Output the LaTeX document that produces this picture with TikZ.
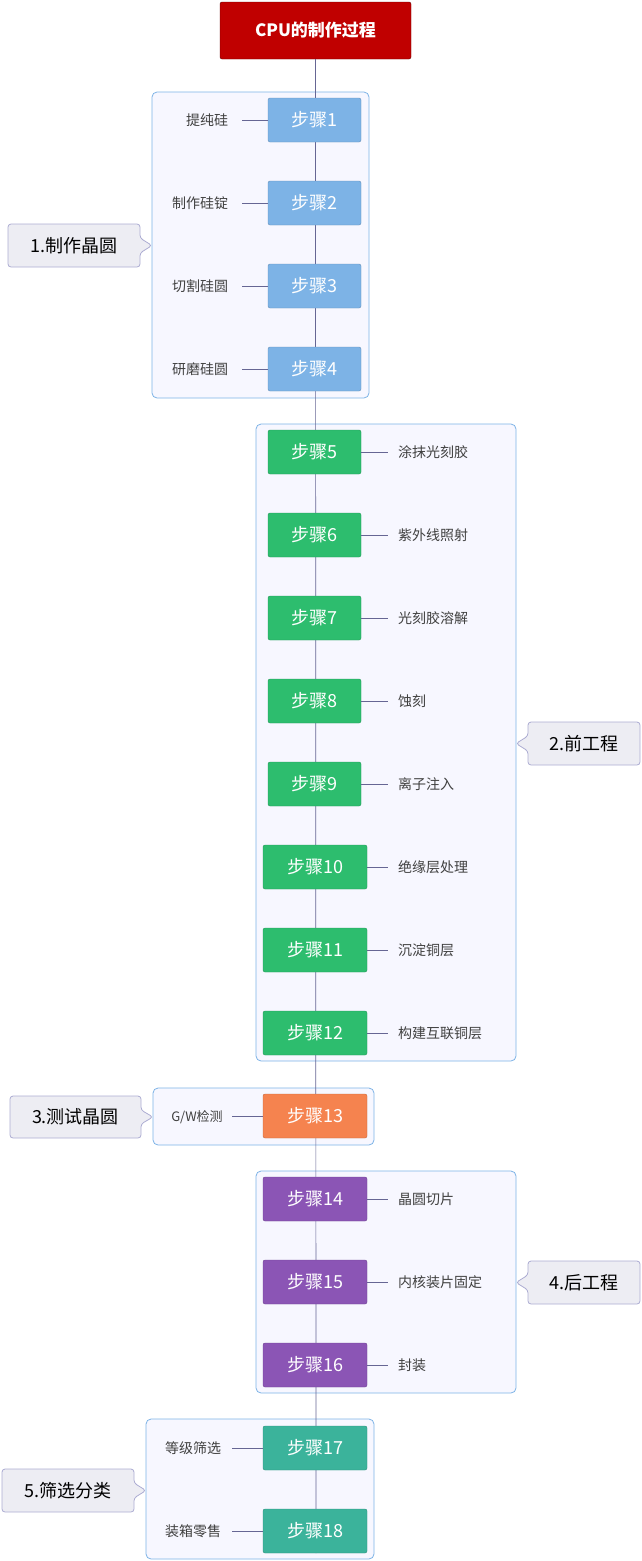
\documentclass[tikz,border=0pt]{standalone}
\usepackage{fontspec}
\setmainfont{Noto Sans CJK SC}
\begin{document}
\begin{tikzpicture}[x=1pt,y=-1pt,
  grp/.style={draw=#1,fill=white!97!blue,rounded corners=5pt,line width=0.8pt},
  stp/.style={fill=#1,draw=#1!80!black,rounded corners=2pt,text=white,font=\fontsize{18}{18}\selectfont,inner sep=0pt,minimum height=44pt},
  lbl/.style={font=\fontsize{14}{14}\selectfont,text=black!75,inner sep=1pt},
  ln/.style={draw=black!70!blue!60,line width=0.7pt},
  co/.style={fill=blue!20!gray!12,draw=blue!30!gray!50,line width=0.8pt,rounded corners=3pt}]
\definecolor{cb}{HTML}{7DB3E6}
\definecolor{cg}{HTML}{2DBD6E}
\definecolor{co}{HTML}{F5834F}
\definecolor{cp}{HTML}{8B55B5}
\definecolor{ct}{HTML}{3BB39B}
\useasboundingbox (0,0) rectangle (641,1561);
% containers
\draw[grp=cb] (152,92) rectangle (369,398);
\draw[grp=cb] (256,424) rectangle (516,1061);
\draw[grp=cb] (153,1088) rectangle (374,1145);
\draw[grp=cb] (256,1171) rectangle (516,1393);
\draw[grp=cb] (146,1419) rectangle (374,1559);
% title
\node[fill={rgb,255:red,192;green,0;blue,0},draw=red!40!black,rounded corners=2pt,text=white,font=\fontsize{17}{17}\selectfont\bfseries,minimum width=191pt,minimum height=57pt,inner sep=0pt] (title) at (315.5,30.5) {CPU的制作过程};
\coordinate (bot) at (316,1553);
\draw[ln] (title.south) -- (bot);
% steps
\foreach \n/\y in {1/120,2/203,3/286,4/369}
  \node[stp=cb,minimum width=93pt] (s\n) at (314.5,\y) {步骤\n};
\foreach \n/\y in {5/452,6/535,7/618,8/701,9/784}
  \node[stp=cg,minimum width=93pt] (s\n) at (314.5,\y) {步骤\n};
\foreach \n/\y in {10/867,11/950,12/1033}
  \node[stp=cg,minimum width=104pt] (s\n) at (315,\y) {步骤\n};
\node[stp=co,minimum width=104pt] (s13) at (315,1116) {步骤13};
\foreach \n/\y in {14/1199,15/1282,16/1365}
  \node[stp=cp,minimum width=104pt] (s\n) at (315,\y) {步骤\n};
\foreach \n/\y in {17/1448,18/1531}
  \node[stp=ct,minimum width=104pt] (s\n) at (315,\y) {步骤\n};
% left labels
\foreach \n/\t/\x in {1/提纯硅/207,2/制作硅锭/200,3/切割硅圆/200,4/研磨硅圆/200}{
  \node[lbl] (l\n) at (\x,{120+83*(\n-1)}) {\t};
  \draw[ln] (242,{120+83*(\n-1)}) -- (s\n.west);}
\node[lbl,font=\fontsize{13}{13}\selectfont] (l13) at (197,1117) {G/W检测};
\draw[ln] (232,1116) -- (s13.west);
\node[lbl] (l17) at (193,1448) {等级筛选};
\draw[ln] (232,1448) -- (s17.west);
\node[lbl] (l18) at (193,1531) {装箱零售};
\draw[ln] (232,1531) -- (s18.west);
% right labels
\foreach \n/\t in {5/涂抹光刻胶,6/紫外线照射,7/光刻胶溶解,8/蚀刻,9/离子注入,10/绝缘层处理,11/沉淀铜层,12/构建互联铜层,14/晶圆切片,15/内核装片固定,16/封装}{
  \node[lbl,anchor=west] (r\n) at (397,0 |- s\n) {\t};
  \draw[ln] (s\n.east) -- (388,0 |- s\n);}
% callouts
\draw[co] (8,224) -- (140,224) -- (140,238) -- (152,245.5) -- (140,253) -- (140,267) -- (8,267) -- cycle;
\node[font=\fontsize{18}{18}\selectfont] (c1) at (74,245.5) {1.制作晶圆};
\draw[co] (640,722) -- (528,722) -- (528,736) -- (516,743.5) -- (528,751) -- (528,765) -- (640,765) -- cycle;
\node[font=\fontsize{18}{18}\selectfont] (c2) at (584,743.5) {2.前工程};
\draw[co] (10,1096) -- (141,1096) -- (141,1110) -- (153,1117) -- (141,1124) -- (141,1138) -- (10,1138) -- cycle;
\node[font=\fontsize{18}{18}\selectfont] (c3) at (75.5,1117) {3.测试晶圆};
\draw[co] (640,1261) -- (528,1261) -- (528,1275) -- (516,1282.5) -- (528,1290) -- (528,1304) -- (640,1304) -- cycle;
\node[font=\fontsize{18}{18}\selectfont] (c4) at (584,1282.5) {4.后工程};
\draw[co] (2,1469) -- (134,1469) -- (134,1483) -- (146,1490.5) -- (134,1498) -- (134,1512) -- (2,1512) -- cycle;
\node[font=\fontsize{18}{18}\selectfont] (c5) at (68,1490.5) {5.筛选分类};
\end{tikzpicture}
\end{document}
